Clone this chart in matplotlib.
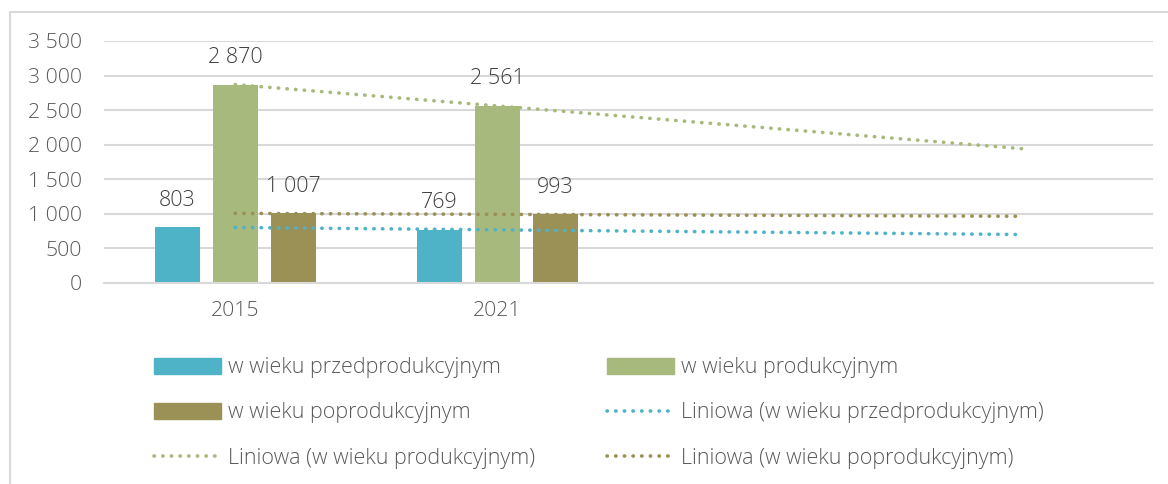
import numpy as np
import matplotlib.pyplot as plt
from matplotlib.patches import Patch, Rectangle
from matplotlib.lines import Line2D

plt.rcParams['font.family'] = ['Open Sans', 'DejaVu Sans']

years = ['2015', '2021']
n_slots = 4  # two empty category slots used by the trendline forecast
przed = [803, 769]
prod = [2870, 2561]
popr = [1007, 993]
names = ['w wieku przedprodukcyjnym', 'w wieku produkcyjnym', 'w wieku poprodukcyjnym']
colors = ['#4FB3C7', '#A8B97E', '#9B9055']

fig = plt.figure(figsize=(11.68, 4.84), dpi=100)
ax = fig.add_axes([104 / 1168, 1 - 283 / 484, (1153 - 104) / 1168, (283 - 41) / 484])

x = np.arange(1, len(years) + 1)
offs = [-0.221, 0.0, 0.221]
w = 0.172
series = [przed, prod, popr]

for vals, off, c in zip(series, offs, colors):
    bars = ax.bar(x + off, vals, width=w, color=c, zorder=2)
    for b, v in zip(bars, vals):
        ax.annotate(f'{v:,}'.replace(',', ' '), (b.get_x() + b.get_width() / 2, v),
                    xytext=(0, 19.5), textcoords='offset points', ha='center', va='center',
                    fontsize=15.5, color='#404040', fontweight='light')

# linear trendlines, forecast forward to the last slot
xt = np.array([1, n_slots])
for vals, c in zip(series, colors):
    k, b0 = np.polyfit(x, vals, 1)
    ax.plot(xt, k * xt + b0, color=c, lw=2.6, linestyle=(0, (0.1, 2.3)),
            dash_capstyle='round', zorder=3)

ax.set_xlim(0.5, n_slots + 0.5)
ax.set_ylim(0, 3500)
ax.set_yticks(range(0, 3501, 500))
ax.set_yticklabels([f'{v:,}'.replace(',', ' ') for v in range(0, 3501, 500)],
                   fontweight='light')
ax.set_xticks(x)
ax.set_xticklabels(years, fontweight='light')
ax.tick_params(axis='both', length=0, labelsize=15.3, labelcolor='#595959')
ax.tick_params(axis='y', pad=16)
ax.tick_params(axis='x', pad=13)
ax.yaxis.grid(True, color='#D9D9D9', lw=1.5, zorder=0)
ax.set_axisbelow(True)
for s in ['top', 'right', 'left']:
    ax.spines[s].set_visible(False)
ax.spines['bottom'].set_color('#D9D9D9')
ax.spines['bottom'].set_linewidth(1.5)

def bar_h(c):
    return Patch(color=c)

def dot_h(c):
    return Line2D([], [], color=c, lw=2.6, linestyle=(0, (0.1, 2.3)), dash_capstyle='round')

handles = [bar_h(colors[0]), bar_h(colors[2]), dot_h(colors[1]),
           bar_h(colors[1]), dot_h(colors[0]), dot_h(colors[2])]
labels = [names[0], names[2], 'Liniowa (' + names[1] + ')',
          names[1], 'Liniowa (' + names[0] + ')', 'Liniowa (' + names[2] + ')']
leg = fig.legend(handles, labels, ncol=2, loc='upper left',
                 bbox_to_anchor=(135 / 1168, 1 - 338 / 484), frameon=False,
                 prop={'size': 15.5, 'weight': 'light'}, labelcolor='#595959',
                 handlelength=3.1, handleheight=0.8,
                 handletextpad=0.33, columnspacing=3.32, labelspacing=1.12)

fig.patches.append(Rectangle((10 / 1168, -0.1), 1.2, 1 - 12 / 484 + 0.1,
                             transform=fig.transFigure, fill=False,
                             edgecolor='#D9D9D9', lw=1.5))

fig.savefig('out.png', dpi=100)
